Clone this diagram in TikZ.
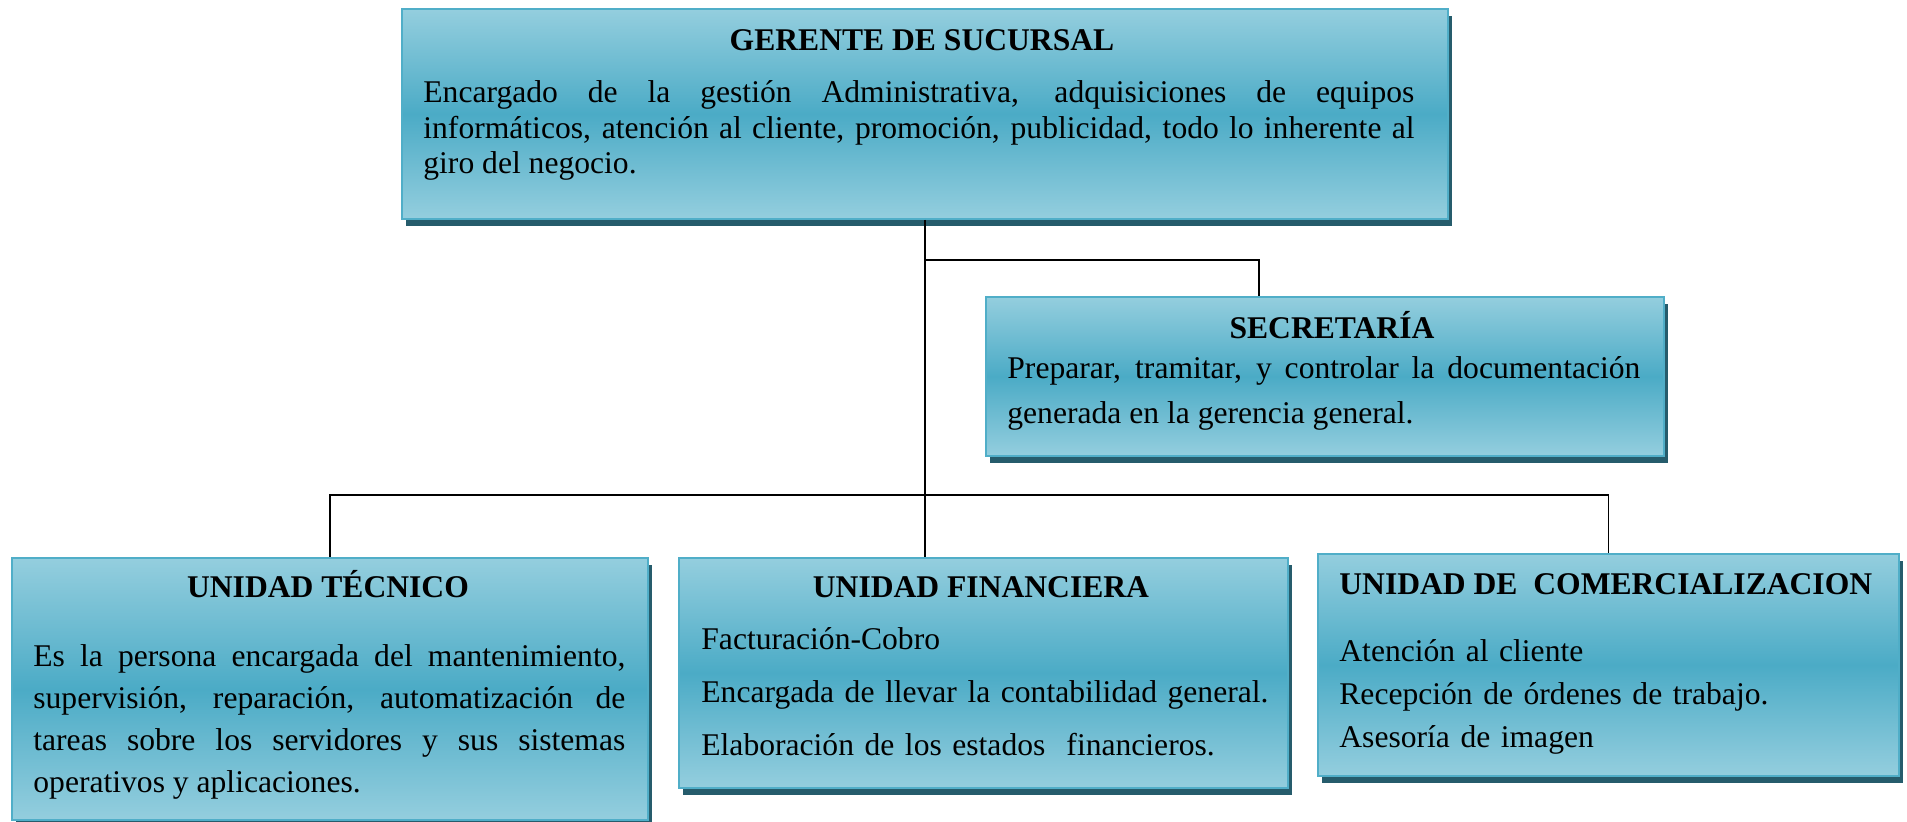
\documentclass[tikz,border=0pt]{standalone}
\usepackage{fontspec}
\setmainfont{Liberation Serif}
\usepackage{xcolor}
\usetikzlibrary{arrows,positioning,shapes,shadows}

\definecolor{boxtop}{RGB}{148,206,222}
\definecolor{boxmid}{RGB}{75,171,198}
\definecolor{boxline}{RGB}{80,174,200}
\definecolor{boxshade}{RGB}{38,92,108}
\hyphenpenalty=10000
\exhyphenpenalty=10000

\begin{document}
\begin{tikzpicture}[x=0.5pt, y=-0.5pt]
    % Define styles
    \tikzstyle{block} = [rectangle, anchor=north west, draw=boxline, line width=1pt, top color=boxtop, bottom color=boxtop, middle color=boxmid, drop shadow={shadow xshift=2pt, shadow yshift=-3.5pt, fill=boxshade, opacity=1}]
    \tikzstyle{boxtitle} = [font=\fontsize{15.8}{19}\selectfont\bfseries, inner sep=0pt, anchor=base]
    \tikzstyle{boxtext} = [anchor=base west, inner sep=0pt, align=justify]
    \tikzstyle{conn} = [thick]

    \useasboundingbox (0,0) rectangle (1907,822);

    % Boxes
    \node [block, minimum width=523pt, minimum height=105pt] (ger) at (401,8) {};
    \node [block, minimum width=339pt, minimum height=79.5pt] (sec) at (985,296) {};
    \node [block, minimum width=318pt, minimum height=131pt] (tec) at (11,557) {};
    \node [block, minimum width=304.5pt, minimum height=115pt] (fin) at (678,557) {};
    \node [block, minimum width=290.5pt, minimum height=111pt] (com) at (1317,553) {};

    % Titles
    \node [boxtitle] (gertitle) at (922,51) {GERENTE DE SUCURSAL};
    \node [boxtitle] (sectitle) at (1332,339) {SECRETARÍA};
    \node [boxtitle] (tectitle) at (328,598) {UNIDAD TÉCNICO};
    \node [boxtitle] (fintitle) at (981,598) {UNIDAD FINANCIERA};
    \node [boxtitle, anchor=base west] (comtitle) at (1339,595) {UNIDAD DE\ \ COMERCIALIZACION};

    % Texts
    \node [boxtext, text width=495.5pt, font=\fontsize{15.8}{17.75}\selectfont] (gertext) at (423,103) {Encargado de la gestión Administrativa, adquisiciones de equipos\linebreak informáticos, atención al cliente, promoción, publicidad, todo lo inherente al\linebreak giro del negocio.};
    \node [boxtext, text width=316.5pt, font=\fontsize{15.8}{22.2}\selectfont] (sectext) at (1007,379) {Preparar, tramitar, y controlar la documentación\linebreak generada en la gerencia general.};
    \node [boxtext, text width=296pt, font=\fontsize{15.8}{20.85}\selectfont] (tectext) at (33,667) {Es la persona encargada del mantenimiento,\linebreak supervisión, reparación, automatización de\linebreak tareas sobre los servidores y sus sistemas\linebreak operativos y aplicaciones.};
    \node [boxtext, align=left, text width=290pt, font=\fontsize{15.8}{26.5}\selectfont] (fintext) at (701,650) {Facturación-Cobro\\ Encargada de llevar la contabilidad general.\\ Elaboración de los estados\ \ financieros.};
    \node [boxtext, align=left, text width=270pt, font=\fontsize{15.8}{21.3}\selectfont] (comtext) at (1339,662) {Atención al cliente\\ Recepción de órdenes de trabajo.\\ Asesoría de imagen};

    % Lines
    \coordinate (sectap) at (1259,260);
    \coordinate (bus) at (927,495);
    \draw [conn] (ger.south) -- (ger.south |- fin.north);
    \draw [conn] (ger.south |- sectap) -- (sectap) -- (sectap |- sec.north);
    \draw [conn] (tec.north) |- (bus) -| (com.north);

\end{tikzpicture}
\end{document}
